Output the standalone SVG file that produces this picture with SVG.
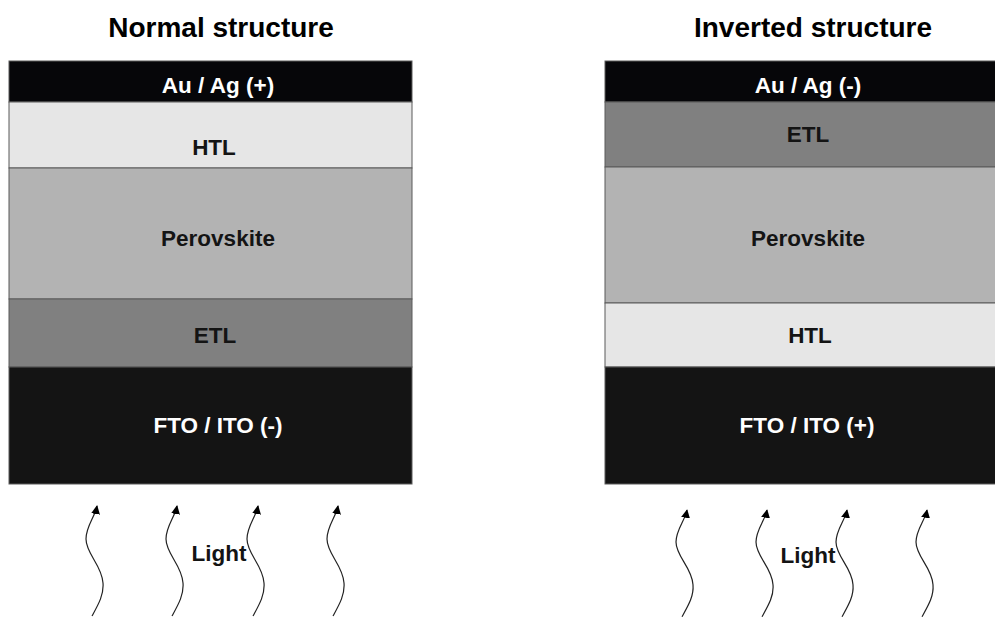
<svg xmlns="http://www.w3.org/2000/svg" width="995" height="617" viewBox="0 0 995 617">
<style>
.title{font-family:"Liberation Sans",Arial,sans-serif;font-weight:bold;font-size:28px;fill:#000;text-anchor:middle}
.lbl{font-family:"Liberation Sans",Arial,sans-serif;font-weight:bold;font-size:22.5px;text-anchor:middle}
.dk{fill:#141414}
.wt{fill:#ffffff}
.layer{stroke:#5a5a5a;stroke-width:1}
.wave{fill:none;stroke:#222;stroke-width:1.2}
</style>
<defs>
<marker id="ah" viewBox="0 0 10 10" refX="9" refY="5" markerWidth="9" markerHeight="9" markerUnits="userSpaceOnUse" orient="auto">
<path d="M0,0 L10,5 L0,10 Z" fill="#000"/>
</marker>
<path id="w" d="M-5,110 C1,99 7,89 6,77 C5,59 -11,48 -11,33 C-11,20 -2,11 0,0"/>
</defs>
<rect width="995" height="617" fill="#fff"/>
<text class="title" x="221" y="37">Normal structure</text>
<text class="title" x="813" y="37">Inverted structure</text>

<g id="normal">
<g id="n-au"><rect class="layer" x="9" y="61" width="403" height="41" fill="#060609"/><text class="lbl wt" x="218" y="93">Au / Ag (+)</text></g>
<g id="n-htl"><rect class="layer" x="9" y="102" width="403" height="66" fill="#e6e6e6"/><text class="lbl dk" x="214" y="155">HTL</text></g>
<g id="n-pero"><rect class="layer" x="9" y="168" width="403" height="131" fill="#b3b3b3"/><text class="lbl dk" x="218" y="246">Perovskite</text></g>
<g id="n-etl"><rect class="layer" x="9" y="299" width="403" height="68" fill="#808080"/><text class="lbl dk" x="215" y="343">ETL</text></g>
<g id="n-fto"><rect class="layer" x="9" y="367" width="403" height="117" fill="#141414"/><text class="lbl wt" x="218" y="433">FTO / ITO (-)</text></g>
</g>

<g id="inverted">
<g id="i-au"><rect class="layer" x="605" y="61" width="403" height="41" fill="#060609"/><text class="lbl wt" x="808" y="93">Au / Ag (-)</text></g>
<g id="i-etl"><rect class="layer" x="605" y="102" width="403" height="65" fill="#808080"/><text class="lbl dk" x="808" y="142">ETL</text></g>
<g id="i-pero"><rect class="layer" x="605" y="167" width="403" height="136" fill="#b3b3b3"/><text class="lbl dk" x="808" y="246">Perovskite</text></g>
<g id="i-htl"><rect class="layer" x="605" y="303" width="403" height="64" fill="#e6e6e6"/><text class="lbl dk" x="810" y="343">HTL</text></g>
<g id="i-fto"><rect class="layer" x="605" y="367" width="403" height="117" fill="#141414"/><text class="lbl wt" x="807" y="433">FTO / ITO (+)</text></g>
</g>

<g id="connectors">
<use href="#w" class="wave" transform="translate(97,506)" marker-end="url(#ah)"/>
<use href="#w" class="wave" transform="translate(177,506)" marker-end="url(#ah)"/>
<use href="#w" class="wave" transform="translate(258,506)" marker-end="url(#ah)"/>
<use href="#w" class="wave" transform="translate(338,506)" marker-end="url(#ah)"/>
<use href="#w" class="wave" transform="translate(687,510) scale(1,0.97)" marker-end="url(#ah)"/>
<use href="#w" class="wave" transform="translate(767,510) scale(1,0.97)" marker-end="url(#ah)"/>
<use href="#w" class="wave" transform="translate(847,510) scale(1,0.97)" marker-end="url(#ah)"/>
<use href="#w" class="wave" transform="translate(927,510) scale(1,0.97)" marker-end="url(#ah)"/>
</g>
<g id="light-left"><text class="lbl dk" x="219" y="561">Light</text></g>
<g id="light-right"><text class="lbl dk" x="808" y="563">Light</text></g>
</svg>
